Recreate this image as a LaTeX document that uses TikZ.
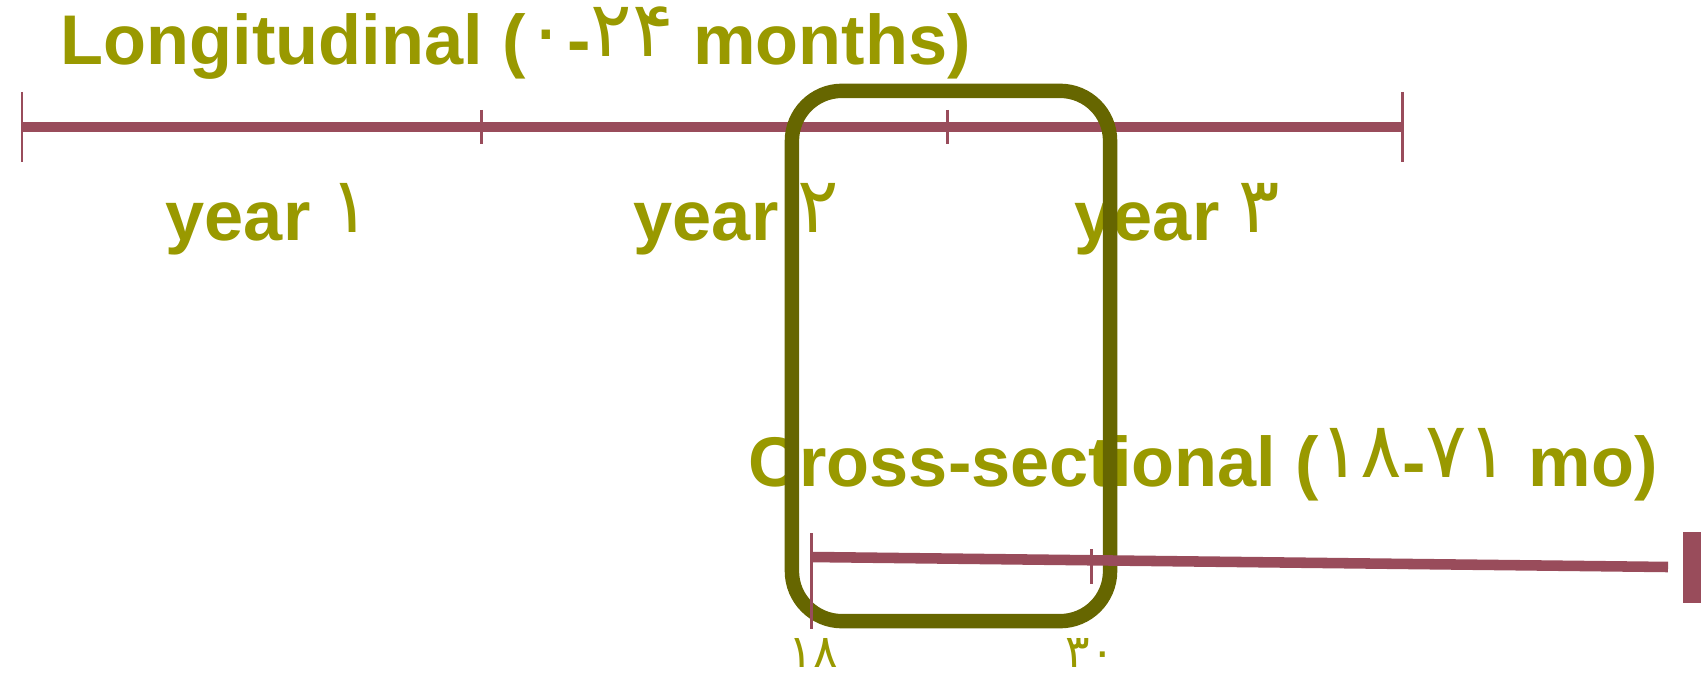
\documentclass[tikz,border=0pt]{standalone}
\usepackage{fontspec}
\setmainfont{Liberation Sans}
\newfontfamily\persianfont[Script=Arabic]{DejaVu Sans}
\usetikzlibrary{positioning}
\definecolor{olivetext}{RGB}{153,153,0}
\definecolor{olivebox}{RGB}{102,102,0}
\definecolor{maroonline}{RGB}{153,76,91}
\newcommand{\fadigits}[1]{\raisebox{0.12em}{\mdseries\persianfont\fontsize{22}{24}\selectfont #1}}

\begin{document}
\begin{tikzpicture}[x=0.01cm, y=-0.01cm,
                    labelnode/.style={text=olivetext, font=\fontsize{20}{24}\selectfont\bfseries, inner sep=0pt, anchor=base west},
                    digitnode/.style={text=olivetext, font=\fontsize{13}{15}\selectfont\persianfont, inner sep=0pt, anchor=south west},
                    timeline/.style={draw=maroonline, line width=3pt},
                    tickline/.style={draw=maroonline, line width=0.85pt},
                    windownode/.style={rectangle, draw=olivebox, line width=4.1pt, rounded corners=0.5cm, minimum width=3.18cm, minimum height=5.3cm}]
                    \useasboundingbox (0,0) rectangle (1706,676);

                    % labels
                    \node[labelnode] (longlabel) at (60,65) {Longitudinal (\fadigits{۰}-\fadigits{۲۴} months)};
                    \node[labelnode] (year-1) at (165,241) {year \fadigits{۱}};
                    \node[labelnode] (year-2) at (633,241) {year \fadigits{۲}};
                    \node[labelnode] (year-3) at (1074,241) {year \fadigits{۳}};
                    \node[labelnode] (crosslabel) at (748,486) {Cross-sectional (\fadigits{۱۸}-\fadigits{۷۱} mo)};
                    \node[digitnode] (age-18) at (788,668) {۱۸};
                    \node[digitnode] (age-30) at (1065,668) {۳۰};

                    % longitudinal line
                    \coordinate (0-0) at (22,127);
                    \coordinate (0-1) at (481,127);
                    \coordinate (0-2) at (947,127);
                    \coordinate (0-3) at (1402,127);
                    \draw[timeline] (0-0) -- (0-3);
                    \foreach \x/\h in {22/35, 481/17, 947/17, 1402/35}
                        \draw[tickline] (\x,127-\h) -- (\x,127+\h);

                    % window
                    \node[windownode] (window) at (951,356) {};

                    % cross-sectional line
                    \coordinate (1-0) at (811,557);
                    \coordinate (1-1) at (1668,567);
                    \draw[timeline] (1-0) -- (1-1);
                    \draw[tickline] (811,533) -- (811,629);
                    \draw[tickline] (1091,549) -- (1091,584);
                    \fill[maroonline] (1683,532) rectangle (1701,603);
                    \end{tikzpicture}
\end{document}
